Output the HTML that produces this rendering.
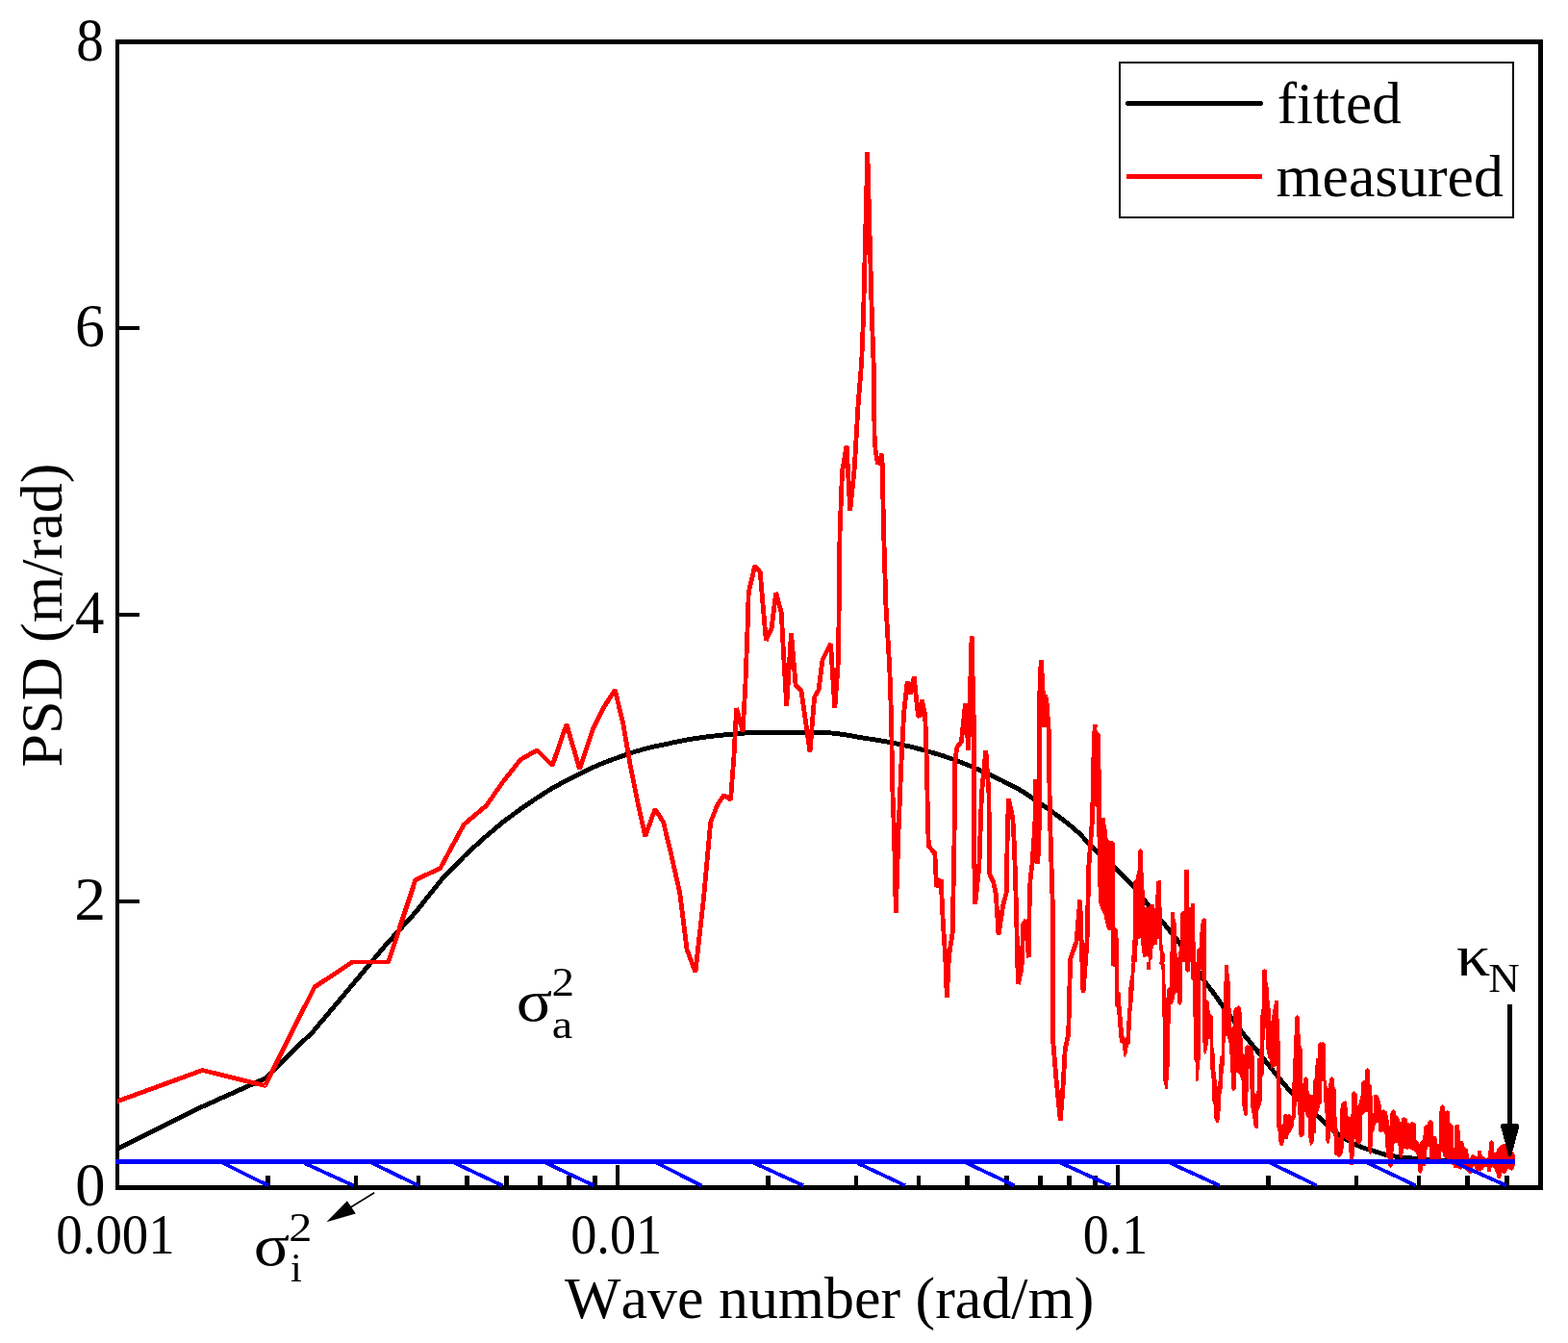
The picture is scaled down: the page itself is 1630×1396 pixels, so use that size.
<!DOCTYPE html>
<html lang="en"><head><meta charset="utf-8"><title>PSD vs wave number</title>
<style>html,body{margin:0;padding:0;background:#fff}body{width:1630px;height:1396px;overflow:hidden}svg{display:block}text{font-family:"Liberation Serif","DejaVu Serif",serif;fill:#000;font-kerning:none}</style></head><body>
<svg width="1630" height="1396" viewBox="0 0 1630 1396">
<rect width="1630" height="1396" fill="#fff"/>
<g shape-rendering="crispEdges" fill="none">
<rect x="122.0" y="43.4" width="1479.6" height="1191.1" stroke="#000" stroke-width="4.8"/>
<line x1="278.5" y1="1222.2" x2="278.5" y2="1234.5" stroke="#000" stroke-width="4.6"/>
<line x1="370.1" y1="1222.2" x2="370.1" y2="1234.5" stroke="#000" stroke-width="4.6"/>
<line x1="435.1" y1="1222.2" x2="435.1" y2="1234.5" stroke="#000" stroke-width="4.6"/>
<line x1="485.5" y1="1222.2" x2="485.5" y2="1234.5" stroke="#000" stroke-width="4.6"/>
<line x1="526.6" y1="1222.2" x2="526.6" y2="1234.5" stroke="#000" stroke-width="4.6"/>
<line x1="561.5" y1="1222.2" x2="561.5" y2="1234.5" stroke="#000" stroke-width="4.6"/>
<line x1="591.6" y1="1222.2" x2="591.6" y2="1234.5" stroke="#000" stroke-width="4.6"/>
<line x1="618.2" y1="1222.2" x2="618.2" y2="1234.5" stroke="#000" stroke-width="4.6"/>
<line x1="642.0" y1="1211.2" x2="642.0" y2="1234.5" stroke="#000" stroke-width="4.6"/>
<line x1="798.5" y1="1222.2" x2="798.5" y2="1234.5" stroke="#000" stroke-width="4.6"/>
<line x1="890.1" y1="1222.2" x2="890.1" y2="1234.5" stroke="#000" stroke-width="4.6"/>
<line x1="955.1" y1="1222.2" x2="955.1" y2="1234.5" stroke="#000" stroke-width="4.6"/>
<line x1="1005.5" y1="1222.2" x2="1005.5" y2="1234.5" stroke="#000" stroke-width="4.6"/>
<line x1="1046.6" y1="1222.2" x2="1046.6" y2="1234.5" stroke="#000" stroke-width="4.6"/>
<line x1="1081.5" y1="1222.2" x2="1081.5" y2="1234.5" stroke="#000" stroke-width="4.6"/>
<line x1="1111.6" y1="1222.2" x2="1111.6" y2="1234.5" stroke="#000" stroke-width="4.6"/>
<line x1="1138.2" y1="1222.2" x2="1138.2" y2="1234.5" stroke="#000" stroke-width="4.6"/>
<line x1="1162.0" y1="1211.2" x2="1162.0" y2="1234.5" stroke="#000" stroke-width="4.6"/>
<line x1="1318.5" y1="1222.2" x2="1318.5" y2="1234.5" stroke="#000" stroke-width="4.6"/>
<line x1="1410.1" y1="1222.2" x2="1410.1" y2="1234.5" stroke="#000" stroke-width="4.6"/>
<line x1="1475.1" y1="1222.2" x2="1475.1" y2="1234.5" stroke="#000" stroke-width="4.6"/>
<line x1="1525.5" y1="1222.2" x2="1525.5" y2="1234.5" stroke="#000" stroke-width="4.6"/>
<line x1="1566.6" y1="1222.2" x2="1566.6" y2="1234.5" stroke="#000" stroke-width="4.6"/>
<rect x="122.0" y="935.0" width="23.0" height="4" fill="#000" stroke="none"/>
<rect x="122.0" y="637.0" width="23.0" height="4" fill="#000" stroke="none"/>
<rect x="122.0" y="339.0" width="23.0" height="4" fill="#000" stroke="none"/>
<clipPath id="c"><rect x="121.8" y="40" width="1481" height="1197"/></clipPath><g clip-path="url(#c)">
<polyline points="120.0,1195.5 210.4,1150.3 275.4,1121.1 325.7,1072.0 366.9,1023.0 401.7,981.4 431.9,948.4 458.5,915.0 482.3,890.2 503.8,870.5 523.5,854.0 541.5,840.8 558.3,829.3 573.8,819.5 588.4,811.5 602.1,804.6 615.0,798.3 627.2,793.1 638.8,788.7 649.8,784.9 660.3,781.3 670.4,778.4 680.0,776.1 689.2,774.2 698.1,772.3 706.6,770.5 714.8,768.9 722.7,767.6 730.4,766.5 737.8,765.5 745.0,764.7 751.9,764.0 758.6,763.4 765.2,762.8 771.6,762.3 777.7,761.7 783.8,761.5 789.6,761.4 795.4,761.3 800.9,761.3 806.4,761.2 811.7,761.2 816.9,761.1 822.0,761.1 826.9,761.1 831.8,761.1 836.5,761.2 841.2,761.3 845.7,761.4 850.2,761.5 854.6,761.6 858.9,761.8 863.1,761.9 867.3,762.3 871.3,762.7 875.3,763.3 879.3,763.9 883.1,764.6 886.9,765.2 890.7,765.9 894.3,766.5 897.9,767.1 901.5,767.7 905.0,768.2 908.4,768.8 911.8,769.3 915.2,769.9 918.5,770.5 921.7,771.0 924.9,771.6 928.1,772.2 931.2,772.8 934.3,773.5 937.3,774.1 940.3,774.8 943.3,775.4 946.2,776.1 949.0,776.8 951.9,777.6 954.7,778.3 957.5,779.0 960.2,779.8 962.9,780.5 965.6,781.3 968.2,782.0 970.8,782.8 973.4,783.5 976.0,784.3 978.5,785.1 981.0,785.9 983.5,786.8 985.9,787.6 988.3,788.5 990.7,789.3 993.1,790.2 995.4,791.0 997.7,791.9 1000.0,792.8 1002.3,793.7 1004.5,794.6 1006.8,795.5 1009.0,796.4 1011.1,797.3 1013.3,798.3 1015.4,799.2 1017.6,800.2 1019.7,801.1 1021.7,802.1 1023.8,803.0 1025.8,804.0 1027.9,804.9 1029.9,805.8 1033.8,807.7 1037.7,809.5 1041.6,811.3 1045.3,813.2 1049.0,815.1 1052.7,817.0 1056.3,818.9 1059.8,820.9 1063.3,823.0 1066.7,825.1 1070.1,827.3 1073.4,829.5 1076.6,831.8 1079.9,834.0 1083.1,836.3 1086.2,838.5 1089.3,840.7 1092.3,842.9 1095.3,845.0 1098.3,847.2 1101.3,849.3 1104.1,851.5 1107.0,853.7 1109.8,855.9 1112.6,858.2 1115.4,860.5 1118.1,862.8 1120.8,865.2 1123.4,867.8 1126.1,870.6 1128.7,873.4 1131.2,876.1 1133.8,878.8 1136.3,881.2 1138.8,883.6 1141.2,885.8 1143.6,888.1 1146.0,890.2 1148.4,892.3 1150.8,894.4 1153.1,896.5 1155.4,898.6 1157.7,900.8 1159.9,902.9 1162.2,905.1 1164.4,907.2 1166.6,909.3 1168.8,911.4 1170.9,913.5 1173.0,915.7 1175.1,917.9 1177.2,920.2 1179.3,922.5 1181.4,925.0 1183.4,927.5 1185.4,930.1 1188.4,934.0 1191.4,937.8 1194.3,941.4 1197.1,944.9 1200.0,948.3 1202.8,951.6 1205.6,954.9 1208.3,958.1 1211.0,961.4 1213.7,964.7 1216.3,967.9 1218.9,971.2 1221.5,974.4 1224.1,977.6 1226.6,980.9 1229.1,984.2 1231.6,987.5 1234.0,990.7 1236.4,994.0 1238.8,997.4 1241.2,1000.9 1243.5,1004.7 1245.8,1008.9 1248.1,1013.4 1250.4,1017.4 1252.6,1020.7 1254.9,1023.7 1257.1,1026.5 1259.2,1029.3 1261.4,1032.0 1263.5,1035.0 1265.7,1038.0 1267.8,1041.1 1269.8,1044.1 1271.9,1046.9 1274.0,1049.7 1276.0,1052.3 1278.0,1054.9 1280.6,1058.4 1283.3,1062.0 1285.8,1065.6 1288.4,1069.1 1290.9,1072.5 1293.4,1075.8 1295.9,1078.9 1298.4,1081.9 1300.8,1084.9 1303.2,1087.8 1305.5,1090.7 1307.9,1093.6 1310.2,1096.5 1312.5,1099.4 1314.8,1102.2 1317.0,1105.0 1319.3,1107.8 1321.5,1110.5 1323.7,1113.2 1325.8,1115.9 1328.0,1118.5 1330.1,1121.2 1332.2,1123.7 1334.3,1126.2 1336.4,1128.7 1338.4,1131.0 1340.4,1133.3 1342.5,1135.6 1344.9,1138.3 1347.4,1140.8 1349.8,1143.2 1352.3,1145.4 1354.6,1147.5 1357.0,1149.5 1359.3,1151.5 1361.6,1153.4 1363.9,1155.3 1366.2,1157.2 1368.4,1159.2 1370.7,1161.1 1372.9,1163.2 1375.0,1165.2 1377.2,1167.2 1379.3,1169.2 1381.4,1171.1 1383.5,1172.9 1385.6,1174.6 1387.7,1176.2 1389.7,1177.7 1391.7,1179.2 1393.7,1180.7 1396.1,1182.3 1398.5,1183.8 1400.8,1185.2 1403.1,1186.5 1405.4,1187.8 1407.7,1189.0 1409.9,1190.1 1412.1,1191.1 1414.3,1192.0 1416.5,1192.8 1418.7,1193.5 1420.8,1194.2 1422.9,1194.8 1425.0,1195.5 1427.1,1196.1 1429.1,1196.8 1431.2,1197.5 1433.2,1198.1 1435.2,1198.8 1437.5,1199.5 1439.8,1200.1 1442.1,1200.6 1444.3,1201.1 1446.5,1201.4 1448.7,1201.8 1450.9,1202.1 1453.1,1202.4 1455.2,1202.6 1457.3,1202.9 1459.4,1203.1 1461.5,1203.3 1463.5,1203.5 1465.6,1203.7 1467.6,1203.9 1469.6,1204.1 1471.9,1204.4 1474.1,1204.6 1476.4,1204.9 1478.6,1205.1 1480.7,1205.3 1482.9,1205.5 1485.0,1205.7 1487.2,1205.8 1489.3,1206.0 1491.3,1206.1 1493.4,1206.2 1495.5,1206.3 1497.5,1206.3 1499.5,1206.4 1501.7,1206.5 1503.9,1206.6 1506.1,1206.7 1508.3,1206.7 1510.5,1206.8 1512.6,1206.9 1514.7,1206.9 1516.8,1207.0 1518.9,1207.0 1520.9,1207.0 1523.0,1207.0 1525.0,1207.1 1527.2,1207.1 1529.4,1207.1 1531.6,1207.1 1533.7,1207.2 1535.9,1207.2 1538.0,1207.2 1540.1,1207.2 1542.2,1207.2 1544.2,1207.3 1546.3,1207.3 1548.3,1207.3 1550.3,1207.3 1552.5,1207.3 1554.6,1207.3 1556.8,1207.3 1558.9,1207.4 1561.0,1207.4 1563.1,1207.4 1565.1,1207.4 1567.2,1207.4 1569.2,1207.4 1571.2,1207.4 1573.4,1207.4 1575.0,1207.4" stroke="#000" stroke-width="4.9" stroke-linejoin="round"/>
<polyline points="120.0,1145.5 210.4,1112.5 275.5,1128.5 327.0,1026.0 366.3,1000.0 403.6,1000.0 431.9,914.7 457.7,902.5 482.2,857.1 505.5,837.4 522.7,812.9 541.1,789.6 558.3,779.8 574.2,795.7 589.0,752.8 602.5,799.4 616.0,758.9 628.2,734.4 639.3,717.2 647.9,752.8 655.2,795.7 662.6,832.5 670.7,869.3 681.0,841.1 689.6,854.6 698.2,890.2 706.7,928.2 714.1,987.1 722.9,1010.5 731.3,935.6 738.7,854.6 746.0,836.2 752.6,826.4 759.5,831.3 762.9,787.2 765.6,736.0 772.1,760.4 774.8,713.6 777.3,647.2 778.2,616.0 784.7,588.3 790.2,594.8 796.3,665.7 802.1,652.8 806.7,616.0 812.3,637.1 814.4,676.8 817.7,733.9 822.5,658.0 827.1,711.8 833.0,718.0 836.5,743.1 842.0,781.5 846.6,724.7 851.0,717.3 855.0,686.0 863.5,669.0 867.8,735.7 871.5,686.0 872.1,638.0 873.0,555.2 875.5,490.0 880.1,463.4 883.7,530.6 888.3,486.4 892.0,422.0 895.7,376.0 897.5,330.0 901.8,157.6 906.4,330.0 908.6,390.7 909.0,451.5 910.1,468.0 912.6,482.8 916.9,471.7 917.8,514.0 918.7,555.0 920.9,628.8 924.8,695.0 926.7,750.4 927.6,814.8 929.5,865.0 931.3,949.4 934.0,865.0 936.8,796.4 939.6,741.2 943.3,708.1 946.0,721.9 950.2,703.5 954.3,743.1 956.1,744.9 958.3,727.4 961.7,743.1 963.5,796.4 964.4,850.0 965.3,879.4 971.8,886.8 973.6,921.8 978.2,914.4 980.0,953.0 982.8,997.2 984.3,1036.8 986.5,993.6 990.2,969.6 992.0,873.9 992.9,790.9 994.8,777.1 999.4,770.7 1003.6,731.1 1006.7,779.9 1010.1,661.2 1012.3,750.4 1012.6,886.8 1013.7,940.2 1017.8,901.5 1019.6,850.0 1020.5,824.0 1024.8,779.9 1027.9,824.0 1028.8,908.9 1032.5,916.3 1035.3,929.1 1038.0,971.5 1042.6,942.0 1046.3,927.3 1047.2,868.4 1048.4,830.5 1052.8,850.0 1054.6,883.1 1056.4,942.0 1058.3,1023.0 1062.0,1006.4 1063.8,960.4 1066.6,956.7 1069.3,995.4 1070.3,930.0 1071.3,911.0 1073.0,899.0 1074.4,878.0 1075.8,860.0 1076.7,810.0 1078.8,898.0 1080.2,860.0 1080.4,741.0 1081.2,705.0 1082.3,686.5 1084.0,715.0 1085.4,756.0 1086.6,722.0 1088.3,732.0 1089.3,748.0 1090.3,760.0 1090.8,807.0 1091.5,850.0 1094.2,938.3 1094.4,1078.8 1098.0,1121.8 1102.3,1164.8 1105.0,1130.0 1107.3,1090.0 1110.7,1075.0 1112.6,997.2 1119.0,978.8 1122.7,935.6 1126.0,1031.5 1130.0,978.8 1131.9,899.7 1135.6,850.0 1136.8,790.0 1138.2,753.2" stroke="#f00" stroke-width="4.8" stroke-linejoin="bevel"/>
<clipPath id="t0"><rect x="1134.0" y="740.0" width="151.0" height="130.0"/></clipPath>
<g clip-path="url(#t0)"><g transform="translate(1125,740) scale(0.098160)" fill="#f00" stroke="none">
<polygon points="52,1396 52,1130 65,1060 85,950 95,715 105,350 115,130 150,130 160,210 190,235 195,610 205,620 205,1120 240,1120 250,1190 265,1270 270,1355 320,1355 345,1380 345,1396 155,1396 155,1010 135,995 125,1140 120,1250 90,1280 90,1396"/>
</g></g>
<clipPath id="t1"><rect x="1134.0" y="870.0" width="151.0" height="130.0"/></clipPath>
<g clip-path="url(#t1)"><g transform="translate(1125,870) scale(0.098160)" fill="#f00" stroke="none">
<polygon points="165,0 165,450 175,690 190,740 230,830 265,980 310,990 310,1360 345,1396 385,1396 385,1110 375,980 345,950 345,60 320,35 290,45 265,0"/>
<polygon points="615,125 640,145 640,340 655,410 660,740 700,745 720,715 765,715 765,750 775,750 780,600 790,465 835,460 835,745 845,750 845,1100 860,1210 875,1240 875,1396 850,1396 840,1370 825,1340 820,1200 815,1080 795,1080 790,1140 750,1150 745,1290 720,1310 715,1396 700,1270 680,1260 655,1280 640,1260 625,1140 620,1070 595,1085 580,1190 575,1396 510,1396 530,1200 540,980 545,470 565,450 590,340 595,145"/>
<polygon points="940,790 975,790 980,860 995,910 1000,1200 1010,1290 1020,1240 1035,1150 1040,820 1050,795 1075,780 1075,660 1085,350 1130,350 1130,740 1155,740 1155,705 1190,705 1190,1100 1200,1110 1205,1396 930,1396 930,1260 940,1050"/>
<polygon points="1270,870 1290,855 1310,870 1315,1396 1215,1396 1215,1195 1240,1170 1245,1040 1255,930"/>
<polygon points="1510,1355 1550,1355 1555,1396 1505,1396"/>
</g></g>
<clipPath id="t2"><rect x="1134.0" y="1000.0" width="151.0" height="137.0"/></clipPath>
<g clip-path="url(#t2)"><g transform="translate(1125,1000) scale(0.098160)" fill="#f00" stroke="none">
<polygon points="305,0 310,40 345,55 350,465 365,480 375,600 390,790 400,850 430,870 435,985 450,1010 470,985 490,880 510,860 520,570 535,430 550,240 560,0 525,0 520,120 495,240 490,430 475,570 470,780 455,805 440,780 425,600 410,440 405,330 385,315 385,0"/>
<polygon points="685,0 720,0 720,80 685,80"/>
<polygon points="820,0 820,20 840,40 845,380 850,580 860,600 860,1260 880,1340 910,1340 915,1120 930,1100 930,650 940,640 940,450 960,440 980,380 985,330 1010,330 1010,430 1035,455 1055,430 1055,0 930,0 930,260 900,290 895,380 885,380 880,180 870,0"/>
<polygon points="1095,0 1095,90 1115,115 1140,95 1140,0"/>
<polygon points="1150,0 1155,180 1170,200 1175,580 1185,600 1185,1040 1200,1060 1200,1250 1215,1270 1235,1250 1240,1060 1250,1040 1250,0"/>
<polygon points="1250,0 1270,200 1280,950 1300,975 1315,960 1330,880 1335,810 1350,810 1360,1140 1375,1280 1380,1396 1480,1396 1490,1200 1505,1080 1515,800 1530,770 1545,820 1555,860 1570,1060 1580,1340 1595,1370 1630,1340 1630,470 1605,500 1600,680 1580,700 1580,500 1570,480 1565,210 1550,90 1545,30 1510,30 1500,270 1495,490 1475,510 1475,980 1460,1000 1450,1100 1440,1290 1430,1320 1410,1150 1400,950 1390,900 1385,580 1355,540 1345,480 1340,420 1310,390 1310,0"/>
</g></g>
<clipPath id="t3"><rect x="1205.0" y="1137.0" width="80.0" height="100.0"/></clipPath>
<g clip-path="url(#t3)"><g transform="translate(1205,1100) scale(0.098160)" fill="#f00" stroke="none">
<polygon points="40,0 45,240 65,325 100,325 100,90 110,80 110,0"/>
<polygon points="370,0 380,230 395,255 415,255 425,230 435,0"/>
<polygon points="540,0 545,130 555,240 560,440 580,500 585,640 605,680 630,680 640,640 650,530 655,380 665,330 670,190 690,70 695,0 640,0 635,40 630,260 615,300 595,130 590,0"/>
<polygon points="755,0 755,320 775,355 800,320 805,240 820,150 825,0"/>
</g></g>
<clipPath id="t4"><rect x="1285.0" y="990.0" width="160.0" height="110.0"/></clipPath>
<g clip-path="url(#t4)"><g transform="translate(1285,990) scale(0.098160)" fill="#f00" stroke="none">
<polygon points="0,580 25,560 50,585 60,660 65,880 75,1070 90,1080 95,1000 115,980 150,985 175,1010 190,1100 195,1396 140,1396 140,1240 130,1240 125,1396 0,1396"/>
<polygon points="275,190 300,175 325,190 330,310 345,380 350,500 365,620 370,740 385,640 400,560 410,510 450,510 450,700 460,710 465,1020 470,1396 430,1396 430,1200 400,1220 370,1240 345,1130 320,1030 315,800 305,800 300,950 295,1280 285,1300 270,1396 225,1396 225,1360 240,1280 240,1030 255,1010 255,710 265,610 275,600"/>
<polygon points="625,685 645,665 670,685 670,860 680,870 685,980 700,1020 705,1396 600,1396 610,1380 615,880 625,860"/>
<polygon points="715,1340 738,1315 760,1340 765,1396 715,1396"/>
<polygon points="870,970 890,950 905,955 920,948 945,970 945,1330 960,1360 965,1396 815,1396 820,1360 835,1340 840,1200 850,1150 865,1150"/>
<polygon points="990,1335 1012,1318 1035,1335 1040,1396 990,1396"/>
<polygon points="1370,1245 1390,1225 1412,1245 1415,1396 1325,1396 1330,1380 1350,1355 1365,1355"/>
</g></g>
<clipPath id="t5"><rect x="1285.0" y="1100.0" width="160.0" height="137.0"/></clipPath>
<g clip-path="url(#t5)"><g transform="translate(1285,1100) scale(0.098160)" fill="#f00" stroke="none">
<polygon points="0,0 0,150 30,160 60,250 65,500 85,600 100,615 125,590 130,120 145,110 150,490 175,620 185,700 200,740 230,740 235,560 255,520 270,470 275,200 295,170 295,0 225,0 225,240 222,340 205,385 198,370 195,150 195,0"/>
<polygon points="350,0 370,110 405,90 430,80 430,720 445,780 450,880 470,930 500,930 510,860 545,860 560,800 585,770 610,710 615,650 630,630 640,460 650,440 655,600 665,620 665,810 680,835 700,840 720,810 725,560 735,600 765,640 770,880 790,925 820,890 825,800 845,790 850,620 860,590 880,540 885,500 905,480 910,240 925,240 930,390 935,570 945,590 950,870 965,905 990,900 1000,770 1020,770 1035,830 1040,1010 1060,1030 1090,1055 1115,1030 1135,990 1140,850 1150,840 1160,870 1185,870 1195,900 1200,1130 1240,1135 1245,1040 1255,1030 1255,840 1270,890 1290,910 1310,920 1330,880 1335,610 1355,590 1375,570 1395,570 1400,980 1420,1025 1440,1005 1445,800 1465,760 1475,700 1495,680 1500,650 1510,770 1530,790 1560,770 1575,810 1590,1040 1610,1060 1615,1140 1630,1150 1630,740 1600,570 1565,540 1545,560 1530,470 1515,420 1495,390 1460,390 1455,570 1445,590 1440,300 1420,270 1415,125 1390,100 1370,125 1365,230 1345,240 1325,260 1320,400 1295,490 1285,500 1280,380 1265,360 1245,345 1225,370 1220,580 1205,630 1180,600 1175,470 1155,450 1130,460 1110,490 1105,540 1100,830 1085,840 1065,640 1060,340 1045,310 1035,215 1012,195 990,215 985,260 975,270 970,400 960,250 945,220 945,0 850,0 850,30 835,90 830,230 815,240 815,380 795,390 770,370 765,215 738,195 715,215 710,270 700,260 700,0 600,0 600,250 590,260 590,620 560,590 545,600 520,585 500,610 500,690 480,710 480,330 470,310 465,0"/>
</g></g>
<clipPath id="t6"><rect x="1445.0" y="1100.0" width="160.0" height="137.0"/></clipPath>
<g clip-path="url(#t6)"><g transform="translate(1445,1100) scale(0.098160)" fill="#f00" stroke="none">
<polygon points="0,590 15,565 35,540 60,565 65,600 95,630 105,670 115,700 120,640 150,620 180,645 185,680 210,690 230,670 270,690 275,860 300,885 305,920 320,890 350,860 355,730 375,705 395,700 400,675 430,650 460,680 460,830 480,825 500,850 505,910 520,900 520,600 530,510 555,485 580,510 580,570 605,550 630,565 635,680 670,720 675,950 680,950 680,710 735,700 740,790 745,880 765,875 785,900 790,940 825,965 835,1050 845,1060 860,1025 885,1020 910,1040 925,1040 930,980 965,980 975,1030 990,1040 1010,1060 1040,1050 1050,885 1075,865 1100,890 1105,1000 1125,990 1130,960 1160,930 1185,915 1215,905 1240,955 1270,970 1300,985 1310,1000 1325,1030 1325,1120 1315,1160 1290,1195 1265,1175 1245,1175 1235,1200 1210,1225 1185,1215 1170,1275 1140,1275 1125,1215 1110,1200 1105,1165 1090,1160 1080,1140 1065,1200 1030,1205 1025,1150 1005,1145 985,1175 960,1200 940,1195 905,1180 895,1140 880,1150 875,1190 855,1230 835,1215 815,1200 790,1150 745,1180 720,1165 675,1160 670,1130 655,1130 655,1075 620,1075 600,1060 570,1050 555,1000 545,985 540,1075 420,1075 420,1060 415,940 395,940 385,1030 380,1075 380,1120 375,1140 350,1145 340,1195 320,1225 295,1200 295,1075 290,1040 270,1000 240,975 210,960 180,965 150,950 140,1000 130,1050 110,1060 95,1030 85,900 70,890 45,905 40,970 30,1020 30,1120 25,1140 0,1165"/>
</g></g>
</g>
<line x1="232.0" y1="1209" x2="278.9" y2="1232.3" stroke="#00f" stroke-width="3.8"/>
<line x1="316.3" y1="1209" x2="367.3" y2="1232.3" stroke="#00f" stroke-width="3.8"/>
<line x1="386.9" y1="1209" x2="434.8" y2="1232.3" stroke="#00f" stroke-width="3.8"/>
<line x1="472.8" y1="1209" x2="522.2" y2="1232.3" stroke="#00f" stroke-width="3.8"/>
<line x1="567.9" y1="1209" x2="617.3" y2="1232.3" stroke="#00f" stroke-width="3.8"/>
<line x1="682.9" y1="1209" x2="729.2" y2="1232.3" stroke="#00f" stroke-width="3.8"/>
<line x1="784.1" y1="1209" x2="835.1" y2="1232.3" stroke="#00f" stroke-width="3.8"/>
<line x1="891.5" y1="1209" x2="940.9" y2="1232.3" stroke="#00f" stroke-width="3.8"/>
<line x1="1005.0" y1="1209" x2="1054.4" y2="1232.3" stroke="#00f" stroke-width="3.8"/>
<line x1="1103.1" y1="1209" x2="1154.1" y2="1232.3" stroke="#00f" stroke-width="3.8"/>
<line x1="1216.6" y1="1209" x2="1267.6" y2="1232.3" stroke="#00f" stroke-width="3.8"/>
<line x1="1320.9" y1="1209" x2="1368.8" y2="1232.3" stroke="#00f" stroke-width="3.8"/>
<line x1="1422.2" y1="1209" x2="1471.6" y2="1232.3" stroke="#00f" stroke-width="3.8"/>
<line x1="1513.6" y1="1209" x2="1565.8" y2="1232.3" stroke="#00f" stroke-width="3.8"/>
<line x1="120" y1="1207.4" x2="1575.2" y2="1207.4" stroke="#00f" stroke-width="5"/>
<line x1="1569.6" y1="1044" x2="1569.6" y2="1199.6" stroke="#000" stroke-width="4.8"/>
<path d="M1568.4 1201.8 L1560.2 1171.5 L1560.2 1170 Q1560.6 1168.2 1562.6 1168.2 L1577 1168.2 Q1579 1168.2 1579.2 1170 L1579.2 1171.5 L1571 1201.8 Z" fill="#000" stroke="none"/>
</g>
<g><line x1="389.2" y1="1239.7" x2="362" y2="1256.5" stroke="#000" stroke-width="1.6"/>
<path d="M339.4 1270.2 L360.9 1248.2 L369.8 1261.4 Z" fill="#000"/></g>
<g shape-rendering="crispEdges"><rect x="1164" y="65.2" width="408.6" height="160.7" fill="#fff" stroke="#000" stroke-width="2"/>
<line x1="1172.8" y1="107.5" x2="1310.4" y2="107.5" stroke="#000" stroke-width="5.5" stroke-linecap="round"/>
<line x1="1171" y1="183.9" x2="1312.2" y2="183.9" stroke="#f00" stroke-width="5"/></g>
<text transform="translate(1327.78,127.50) scale(1.0096,1)" font-size="60.5">fitted</text>
<text transform="translate(1326.58,204.30) scale(1.0191,1)" font-size="60.5">measured</text>
<text transform="translate(79.37,62.70) scale(0.9148,1)" font-size="62.5">8</text>
<text transform="translate(77.93,359.80) scale(0.9885,1)" font-size="62.5">6</text>
<text transform="translate(78.03,657.90) scale(0.9724,1)" font-size="62.5">4</text>
<text transform="translate(77.14,955.60) scale(1.0520,1)" font-size="62.5">2</text>
<text transform="translate(78.20,1252.60) scale(1.0000,1)" font-size="62.5">0</text>
<text transform="translate(58.22,1303.10) scale(0.9389,1)" font-size="58.5">0.001</text>
<text transform="translate(593.14,1303.10) scale(0.9299,1)" font-size="58.5">0.01</text>
<text transform="translate(1125.76,1303.10) scale(0.9206,1)" font-size="58.5">0.1</text>
<text transform="translate(587.00,1369.60) scale(1.0156,1)" font-size="61">Wave number (rad/m)</text>
<text transform="translate(63.80,797.54) rotate(-90) scale(1.0197,1)" font-size="61">PSD (m/rad)</text>
<text transform="translate(536.86,1061.30) scale(1.1200,1)" font-size="62">σ</text>
<text transform="translate(573.51,1035.20) scale(1.0941,1)" font-size="43">2</text>
<text transform="translate(573.65,1078.60) scale(1.1250,1)" font-size="43">a</text>
<text transform="translate(263.76,1315.20) scale(1.1200,1)" font-size="62">σ</text>
<text transform="translate(300.35,1290.00) scale(1.1235,1)" font-size="43">2</text>
<text transform="translate(302.01,1332.00) scale(0.9900,1)" font-size="43">i</text>
<text transform="translate(1513.86,1014.00) scale(1.1414,1)" font-size="62">κ</text>
<text transform="translate(1547.15,1031.20) scale(1.0483,1)" font-size="43">N</text>
</svg></body></html>
